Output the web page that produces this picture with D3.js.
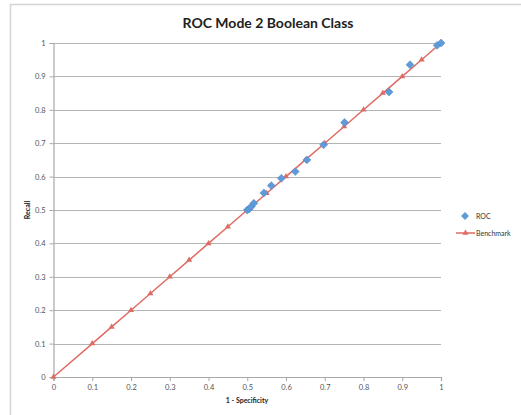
<!DOCTYPE html>
<html>
<head>
<meta charset="utf-8">
<script src="https://cdn.jsdelivr.net/npm/d3@7"></script>
<style>
  html, body { margin: 0; padding: 0; background: #fff; }
  svg { display: block; }
</style>
</head>
<body>
<svg id="chart" width="521" height="415"></svg>
<script>
// ROC curve points (1 - specificity, recall)
const rocX = [0.5, 0.505, 0.51, 0.517, 0.543, 0.562, 0.588, 0.624, 0.654, 0.697, 0.751, 0.866, 0.92, 0.99, 1.0];
const rocY = [0.5, 0.503, 0.51, 0.52, 0.551, 0.573, 0.595, 0.615, 0.65, 0.695, 0.762, 0.853, 0.935, 0.993, 1.0];

// Benchmark diagonal (random classifier)
const benchX = [0, 0.1, 0.15, 0.2, 0.25, 0.3, 0.35, 0.4, 0.45, 0.5, 0.55, 0.6, 0.65, 0.7, 0.75, 0.8, 0.85, 0.9, 0.95, 1];
const benchY = [0, 0.1, 0.15, 0.2, 0.25, 0.3, 0.35, 0.4, 0.45, 0.5, 0.55, 0.6, 0.65, 0.7, 0.75, 0.8, 0.85, 0.9, 0.95, 1];

const xTicks = [0, 0.1, 0.2, 0.3, 0.4, 0.5, 0.6, 0.7, 0.8, 0.9, 1];
const yTicks = [0, 0.1, 0.2, 0.3, 0.4, 0.5, 0.6, 0.7, 0.8, 0.9, 1];

const seriesNames = ["ROC", "Benchmark"];
const titleText = "ROC Mode 2 Boolean Class";
const xTitle = "1 - Specificity";
const yTitle = "Recall";

const rocColor = "#5f9bd9";
const benchColor = "#de6b64";
const font = "Lato, 'Open Sans', sans-serif";

const svg = d3.select("#chart");

// chart frame (top and left edges)
svg.append("line").attr("x1", 10).attr("x2", 521).attr("y1", 4.5).attr("y2", 4.5)
  .attr("stroke", "#d4d4d4").attr("stroke-width", 1.5);
svg.append("line").attr("x1", 10.5).attr("x2", 10.5).attr("y1", 4).attr("y2", 415)
  .attr("stroke", "#d4d4d4").attr("stroke-width", 1.5);

const plotL = 53.5, plotR = 441, plotT = 43, plotB = 377;
const x = d3.scaleLinear().domain([0, 1]).range([plotL, plotR]);
const y = d3.scaleLinear().domain([0, 1]).range([plotB, plotT]);

// title
svg.append("text").attr("x", 268).attr("y", 28).attr("text-anchor", "middle")
  .attr("font-family", font).attr("font-weight", "bold").attr("font-size", 14)
  .attr("fill", "#222").text(titleText);

// horizontal gridlines
svg.append("g").selectAll("line").data(yTicks.filter(d => d > 0)).join("line")
  .attr("x1", plotL).attr("x2", plotR)
  .attr("y1", d => Math.round(y(d)) + 0.5).attr("y2", d => Math.round(y(d)) + 0.5)
  .attr("stroke", "#b4b4b4").attr("stroke-width", 1);

// axes
const yAxis = svg.append("g").attr("transform", `translate(${plotL},0)`)
  .call(d3.axisLeft(y).tickValues(yTicks).tickSize(4).tickPadding(4).tickFormat(d3.format("~g")));
const xAxis = svg.append("g").attr("transform", `translate(0,${plotB})`)
  .call(d3.axisBottom(x).tickValues(xTicks).tickSize(4).tickPadding(4).tickFormat(d3.format("~g")));
[xAxis, yAxis].forEach(a => {
  a.select(".domain").attr("stroke", "#a8a8a8").attr("stroke-width", 1.2);
  a.selectAll(".tick line").attr("stroke", "#a8a8a8");
  a.selectAll(".tick text").attr("font-family", font).attr("font-size", 7.5).attr("fill", "#555");
});

// axis titles
svg.append("text").attr("x", 247).attr("y", 403).attr("text-anchor", "middle")
  .attr("font-family", font).attr("font-weight", "bold").attr("font-size", 7)
  .attr("fill", "#222").text(xTitle);
svg.append("text").attr("transform", "translate(30,210) rotate(-90)").attr("text-anchor", "middle")
  .attr("font-family", font).attr("font-weight", "bold").attr("font-size", 7)
  .attr("fill", "#222").text(yTitle);

// benchmark line with triangle markers
const bench = benchX.map((v, i) => [v, benchY[i]]);
svg.append("path").datum(bench)
  .attr("d", d3.line().x(d => x(d[0])).y(d => y(d[1])))
  .attr("fill", "none").attr("stroke", benchColor).attr("stroke-width", 1.5);
const tri = d3.symbol().type(d3.symbolTriangle).size(16);
svg.append("g").selectAll("path").data(bench).join("path")
  .attr("transform", d => `translate(${x(d[0])},${y(d[1])})`)
  .attr("d", tri).attr("fill", benchColor);

// ROC points as diamonds
const roc = rocX.map((v, i) => [v, rocY[i]]);
const diamond = d3.symbol().type(d3.symbolDiamond2).size(40);
svg.append("g").selectAll("path").data(roc).join("path")
  .attr("transform", d => `translate(${x(d[0])},${y(d[1])})`)
  .attr("d", diamond).attr("fill", rocColor).attr("stroke", "#4a86c5").attr("stroke-width", 0.5);

// legend
const lg = svg.append("g").attr("font-family", font).attr("font-size", 7).attr("fill", "#333");
lg.append("path").attr("transform", "translate(465,216)").attr("d", diamond).attr("fill", rocColor);
lg.append("text").attr("x", 476).attr("y", 218.5).text(seriesNames[0]);
lg.append("line").attr("x1", 456).attr("x2", 475).attr("y1", 233).attr("y2", 233)
  .attr("stroke", benchColor).attr("stroke-width", 1.5);
lg.append("path").attr("transform", "translate(465.5,233)").attr("d", tri).attr("fill", benchColor);
lg.append("text").attr("x", 476).attr("y", 235.5).text(seriesNames[1]);
</script>
</body>
</html>
